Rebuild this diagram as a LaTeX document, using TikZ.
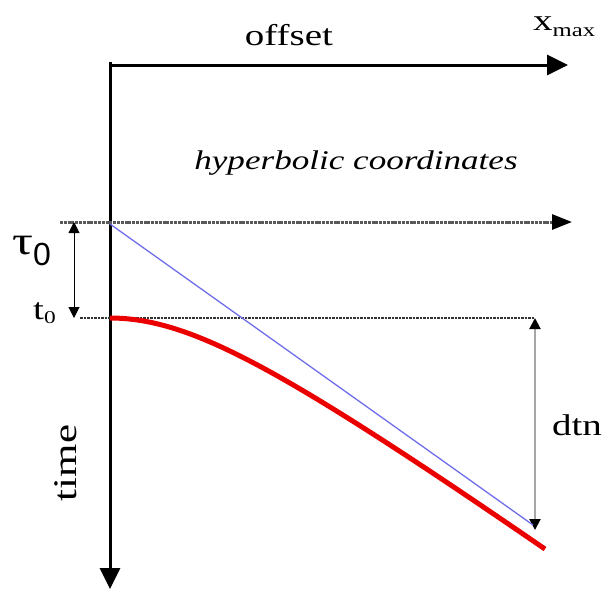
\documentclass[tikz,border=0pt]{standalone}
\usepackage{fontspec}
\setmainfont[FakeStretch=1.3]{Liberation Serif}
\newfontfamily\lsans{Liberation Sans}
\usetikzlibrary{arrows.meta}
\definecolor{bluel}{RGB}{110,110,235}
\definecolor{redl}{RGB}{235,0,0}
\tikzset{
  axis/.style={line width=3pt,-{Triangle[length=21pt,width=20pt]}},
  refline/.style={gray!70!black,line width=3pt,dash pattern=on 3pt off 0.8pt,-{Triangle[length=20pt,width=15pt,fill=black,color=black]}},
  guide/.style={black!80,line width=1.5pt,dash pattern=on 2.5pt off 1pt},
  dim/.style={black,line width=1pt,{Triangle[length=11pt,width=11pt]}-{Triangle[length=11pt,width=11pt]}},
  dimg/.style={gray!70,line width=2pt,{Triangle[length=11pt,width=11pt,color=black]}-{Triangle[length=11pt,width=11pt,color=black]}},
  lbl/.style={inner sep=0pt,anchor=base,font=\fontsize{30}{32}\selectfont},
}
\begin{document}
\begin{tikzpicture}[x=1pt,y=-1pt]
\useasboundingbox (0,0) rectangle (602,590);
\coordinate (o) at (110,65);
\coordinate (top) at (110,62);
\coordinate (xend) at (568,65);
\coordinate (tend) at (110,589);
\coordinate (tauL) at (60,222);
\coordinate (tauR) at (572,222);
\coordinate (t0L) at (80,318);
\coordinate (t0R) at (535,318);
\coordinate (tauA) at (74,222);
\coordinate (t0A) at (74,318);
\coordinate (bs) at (110,224);
\coordinate (be) at (533,525);
\coordinate (dtnB) at (535,530);
% axes
\draw[axis] (108.5,65) -- (xend);
\draw[axis] (top) -- (tend);
% reference lines
\draw[refline] (tauL) -- (tauR);
\draw[guide] (t0L) -- (t0R);
% dimension arrows
\draw[dim] (tauA) -- (t0A);
\draw[dimg] (t0R) -- (dtnB);
% blue asymptote
\draw[bluel,line width=1.3pt] (bs) -- (be);
% red hyperbola
\draw[redl,line width=5pt] plot[domain=110:545,samples=80,smooth] (\x,{222+100*sqrt(0.96*0.96+(0.00718*(\x-110))*(0.00718*(\x-110)))});
% labels
\node[lbl] (off) at (289,45) {offset};
\node[lbl,anchor=base west] (xm) at (533,30) {x\raisebox{-6pt}{\fontsize{19}{20}\selectfont max}};
\node[lbl,font=\fontsize{27}{30}\selectfont\itshape] (hyp) at (356,169) {hyperbolic coordinates};
\node[lbl,anchor=base west,font=\fontsize{40}{42}\selectfont] (tau) at (12,254) {τ\raisebox{-11pt}{\fontsize{32}{32}\selectfont\lsans 0}};
\node[lbl,anchor=base west] (t0) at (33,319) {t\raisebox{-4pt}{\fontsize{18}{20}\selectfont 0}};
\node[lbl,rotate=90,font=\fontsize{33}{35}\selectfont] (time) at (76,463) {time};
\node[lbl] (dtn) at (577,435) {dtn};
\end{tikzpicture}
\end{document}
